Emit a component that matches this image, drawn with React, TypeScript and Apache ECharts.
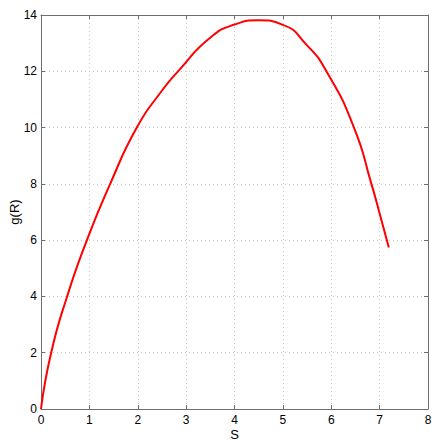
import React, { useEffect, useRef } from "react";
import * as echarts from "echarts";

const sValues = [0, 0.21, 0.54, 0.95, 1.43, 1.98, 2.46, 2.86, 3.49, 4.0, 4.49, 5.0, 5.49, 5.9, 6.47, 6.83, 7.0, 7.19];
const gValues = [0, 2, 4, 6, 8, 10, 11.22, 12.05, 13.18, 13.66, 13.81, 13.65, 12.94, 12, 10, 8, 6.95, 5.74];
const xTicks = [0, 1, 2, 3, 4, 5, 6, 7, 8];
const yTicks = [0, 2, 4, 6, 8, 10, 12, 14];

const FONT = "Liberation Sans";
const AXIS_COLOR = "#6e6e6e";

export default function App() {
  const ref = useRef<HTMLDivElement>(null);
  useEffect(() => {
    if (!ref.current) return;
    const chart = echarts.init(ref.current, null, { renderer: "svg" });
    const data = sValues.map((s, i) => [s, gValues[i]]);
    const xMin = xTicks[0];
    const xMax = xTicks[xTicks.length - 1];
    const yMin = yTicks[0];
    const yMax = yTicks[yTicks.length - 1];
    const baseAxis = {
      type: "value" as const,
      axisLine: { show: true, onZero: false, lineStyle: { color: AXIS_COLOR, width: 1 } },
      axisTick: { show: true, inside: true, length: 4, lineStyle: { color: AXIS_COLOR } },
    };
    chart.setOption({
      animation: false,
      backgroundColor: "#ffffff",
      textStyle: { fontFamily: FONT },
      grid: { left: 41, right: 8, top: 15, bottom: 34, containLabel: false, outerBoundsMode: "none" },
      xAxis: [
        {
          ...baseAxis,
          position: "bottom",
          min: xMin,
          max: xMax,
          interval: 1,
          name: "S",
          nameLocation: "middle",
          nameGap: 19,
          nameMoveOverlap: false,
          nameTextStyle: { color: "#000", fontSize: 13, fontFamily: FONT },
          axisLabel: { color: "#000", fontSize: 12, margin: 5, fontFamily: FONT },
          splitLine: { show: true, lineStyle: { color: "#c8c8c8", type: [1, 3], width: 1 } },
        },
        {
          ...baseAxis,
          position: "top",
          min: xMin,
          max: xMax,
          interval: 1,
          axisLabel: { show: false },
          splitLine: { show: false },
        },
      ],
      yAxis: [
        {
          ...baseAxis,
          position: "left",
          min: yMin,
          max: yMax,
          interval: 2,
          name: "g(R)",
          nameLocation: "middle",
          nameGap: 20,
          nameMoveOverlap: false,
          nameTextStyle: { color: "#000", fontSize: 13, fontFamily: FONT },
          axisLabel: { color: "#000", fontSize: 12, margin: 4, fontFamily: FONT },
          splitLine: { show: true, lineStyle: { color: "#c8c8c8", type: [1, 3], width: 1 } },
        },
        {
          ...baseAxis,
          position: "right",
          min: yMin,
          max: yMax,
          interval: 2,
          axisLabel: { show: false },
          splitLine: { show: false },
        },
      ],
      series: [
        {
          type: "line",
          xAxisIndex: 0,
          yAxisIndex: 0,
          data,
          smooth: 0.55,
          showSymbol: false,
          symbol: "none",
          lineStyle: { color: "#ff0000", width: 2 },
        },
      ],
    });
    return () => chart.dispose();
  }, []);
  return (
    <div
      ref={ref}
      style={{ position: "fixed", left: 0, top: 0, width: 436, height: 443, background: "#fff" }}
    />
  );
}
